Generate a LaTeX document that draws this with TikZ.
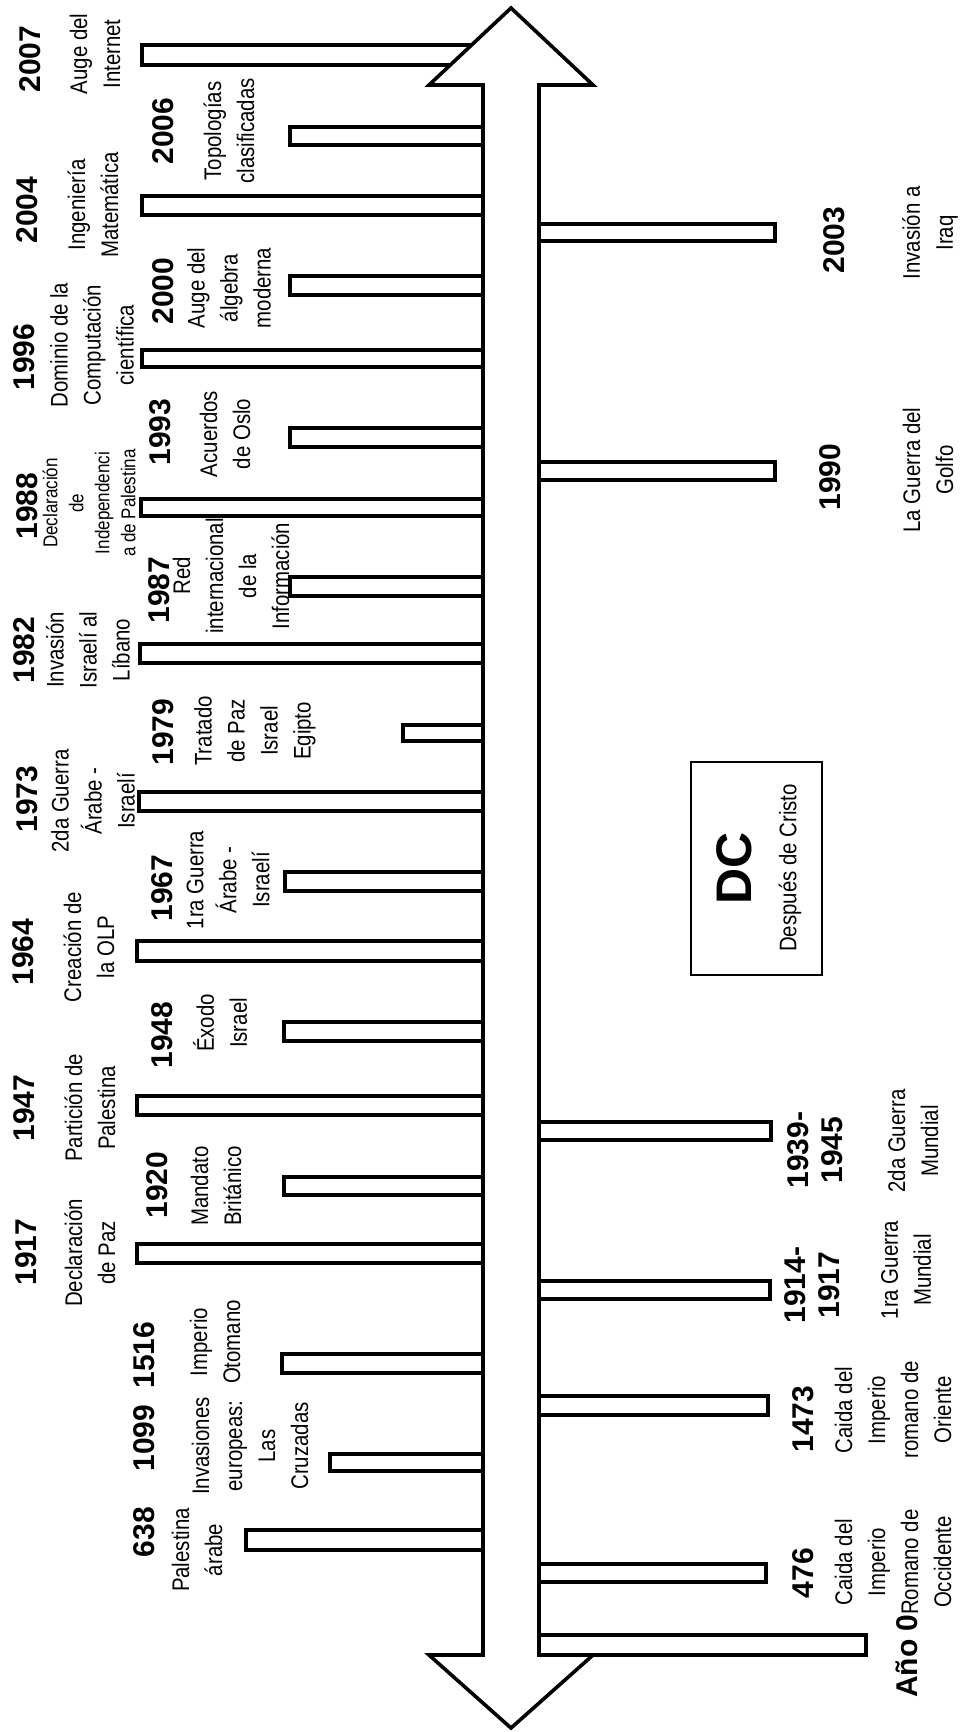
\documentclass[tikz,border=0pt]{standalone}
\usepackage{fontspec}
\setmainfont{Liberation Sans}
\newfontfamily\narrowsans[FakeStretch=0.85]{Liberation Sans}

\tikzset{
  anio/.style={rotate=90, inner sep=0pt, align=center, font=\bfseries\fontsize{15}{17}\selectfont},
  evento/.style={rotate=90, inner sep=0pt, align=center, font=\narrowsans\fontsize{12}{16.5}\selectfont},
  eventochico/.style={evento, font=\narrowsans\fontsize{10}{13}\selectfont},
  barra/.style={draw, line width=2pt},
  flecha/.style={draw, fill=white, line width=1.8pt, line join=miter},
}

\begin{document}
\begin{tikzpicture}[x=0.5pt, y=-0.5pt]
    \useasboundingbox (0,0) rectangle (968,1732);

    % Barras arriba de la linea
    \draw[barra] (142,45) rectangle (511,65);
    \draw[barra] (290,127) rectangle (511,145);
    \draw[barra] (142,196) rectangle (511,215);
    \draw[barra] (290,276) rectangle (511,295);
    \draw[barra] (142,350) rectangle (511,367);
    \draw[barra] (290,428) rectangle (511,447);
    \draw[barra] (141,499) rectangle (511,516);
    \draw[barra] (290,577) rectangle (511,596);
    \draw[barra] (140,644) rectangle (511,663);
    \draw[barra] (403,725) rectangle (511,741);
    \draw[barra] (139,792) rectangle (511,811);
    \draw[barra] (285,872) rectangle (511,891);
    \draw[barra] (137,941) rectangle (511,961);
    \draw[barra] (284,1022) rectangle (511,1041);
    \draw[barra] (137,1096) rectangle (511,1115);
    \draw[barra] (284,1177) rectangle (511,1195);
    \draw[barra] (137,1244) rectangle (511,1263);
    \draw[barra] (282,1354) rectangle (511,1373);
    \draw[barra] (330,1454) rectangle (511,1471);
    \draw[barra] (246,1530) rectangle (511,1550);

    % Barras debajo de la linea
    \draw[barra] (511,224) rectangle (775,241);
    \draw[barra] (511,462) rectangle (775,480);
    \draw[barra] (511,1122) rectangle (771,1140);
    \draw[barra] (511,1281) rectangle (770,1299);
    \draw[barra] (511,1396) rectangle (768,1415);
    \draw[barra] (511,1564) rectangle (766,1582);
    \draw[barra] (511,1635) rectangle (866,1655);

    % Linea del tiempo
    \draw[flecha] (483,85) -- (429,85) -- (511,8) -- (593,85) -- (539,85)
        -- (539,1655) -- (593,1655) -- (511,1728) -- (429,1655) -- (483,1655) -- cycle;

    % Fechas y eventos arriba
    \node[anio] (y2007) at (30,59) {2007};
    \node[evento] (d2007) at (95,54) {Auge del\\Internet};
    \node[anio] (y2006) at (163,131) {2006};
    \node[evento] (d2006) at (229,131) {Topologías\\clasificadas};
    \node[anio] (y2004) at (27,210) {2004};
    \node[evento] (d2004) at (93,205) {Ingeniería\\Matemática};
    \node[anio] (y2000) at (163,291) {2000};
    \node[evento] (d2000) at (229,288) {Auge del\\álgebra\\moderna};
    \node[anio] (y1996) at (24,357) {1996};
    \node[evento] (d1996) at (92,345) {Dominio de la\\Computación\\científica};
    \node[anio] (y1993) at (160,432) {1993};
    \node[evento] (d1993) at (225,434) {Acuerdos\\de Oslo};
    \node[anio] (y1988) at (27,506) {1988};
    \node[eventochico] (d1988) at (89,503) {Declaración\\de\\Independenci\\a de Palestina};
    \node[anio] (y1987) at (159,590) {1987};
    \node[evento] (d1987) at (231,576) {Red\\internacional\\de la\\Información};
    \node[anio] (y1982) at (24,650) {1982};
    \node[evento] (d1982) at (88,650) {Invasión\\Israelí al\\Líbano};
    \node[anio] (y1979) at (163,732) {1979};
    \node[evento] (d1979) at (255,731) {Tratado\\de Paz\\Israel\\Egipto};
    \node[anio] (y1973) at (27,799) {1973};
    \node[evento] (d1973) at (93,801) {2da Guerra\\Árabe -\\Israelí};
    \node[anio] (y1967) at (162,888) {1967};
    \node[evento] (d1967) at (228,880) {1ra Guerra\\Árabe -\\Israelí};
    \node[anio] (y1964) at (23,952) {1964};
    \node[evento] (d1964) at (89,947) {Creación de\\la OLP};
    \node[anio] (y1948) at (162,1035) {1948};
    \node[evento] (d1948) at (220,1023) {Éxodo\\Israel};
    \node[anio] (y1947) at (24,1108) {1947};
    \node[evento] (d1947) at (90,1108) {Partición de\\Palestina};
    \node[anio] (y1920) at (157,1185) {1920};
    \node[evento] (d1920) at (216,1186) {Mandato\\Británico};
    \node[anio] (y1917) at (26,1252) {1917};
    \node[evento] (d1917) at (90,1253) {Declaración\\de Paz};
    \node[anio] (y1516) at (144,1355) {1516};
    \node[evento] (d1516) at (215,1342) {Imperio\\Otomano};
    \node[anio] (y1099) at (144,1438) {1099};
    \node[evento] (d1099) at (250,1446) {Invasiones\\europeas:\\Las\\Cruzadas};
    \node[anio] (y638) at (144,1532) {638};
    \node[evento] (d638) at (197,1550) {Palestina\\árabe};

    % Fechas y eventos abajo
    \node[anio] (y2003) at (834,240) {2003};
    \node[evento] (d2003) at (930,233) {Invasión a\\Iraq};
    \node[anio] (y1990) at (830,477) {1990};
    \node[evento] (d1990) at (928,470) {La Guerra del\\Golfo};
    \node[anio] (y1939) at (815,1150) {1939-\\1945};
    \node[evento] (d1939) at (913,1141) {2da Guerra\\Mundial};
    \node[anio] (y1914) at (812,1285) {1914-\\1917};
    \node[evento] (d1914) at (906,1270) {1ra Guerra\\Mundial};
    \node[anio] (y1473) at (803,1419) {1473};
    \node[evento] (d1473) at (893,1410) {Caida del\\Imperio\\romano de\\Oriente};
    \node[anio] (y476) at (803,1573) {476};
    \node[evento] (d476) at (893,1562) {Caida del\\Imperio\\Romano de\\Occidente};
    \node[anio] (y0) at (907,1656) {Año 0};

    % Recuadro DC
    \node[draw, line width=1pt, minimum width=65.5pt, minimum height=106.5pt] (dcbox) at (756.5,868.5) {};
    \node[rotate=90, inner sep=0pt, font=\bfseries\fontsize{25}{28}\selectfont] (dc) at (734,868) {DC};
    \node[evento] (dctxt) at (790,868) {Después de Cristo};

\end{tikzpicture}
\end{document}
